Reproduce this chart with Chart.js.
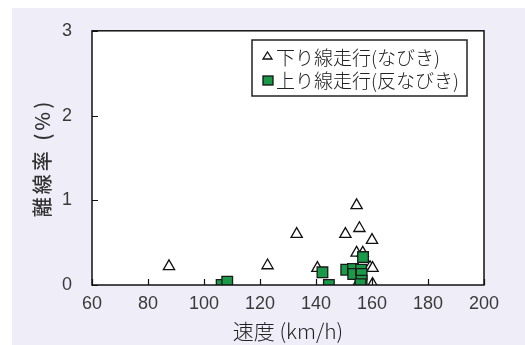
<!DOCTYPE html>
<html>
<head>
<meta charset="utf-8">
<script src="https://cdn.jsdelivr.net/npm/chart.js@4"></script>
<style>
  html, body { margin: 0; padding: 0; background: #fff; }
  #wrap { width: 525px; height: 345px; }
</style>
</head>
<body>
<div id="wrap"><canvas id="chart" width="525" height="345"></canvas></div>
<script>
// Data
const xTicks = [60, 80, 100, 120, 140, 160, 180, 200];
const yTicks = [0, 1, 2, 3];

// 下り線走行(なびき) — open triangles
const downSpeed = [87.5, 122.7, 133.1, 140.5, 150.5, 154.5, 155.5, 160.0, 154.5, 156.7, 159.3, 160.2, 160.2, 156.0, 155.0];
const downRate  = [0.22, 0.23, 0.60, 0.20, 0.60, 0.94, 0.67, 0.53, 0.38, 0.38, 0.21, 0.20, 0.01, 0.10, 0.02];

// 上り線走行(反なびき) — green squares
const upSpeed = [106.3, 108.3, 142.3, 144.6, 150.8, 153.2, 153.3, 156.1, 156.3, 156.3, 155.9, 156.8];
const upRate  = [0.00, 0.04, 0.15, 0.00, 0.18, 0.19, 0.13, 0.18, 0.13, 0.05, 0.01, 0.33];

const labels = ['下り線走行(なびき)', '上り線走行(反なびき)'];
const xTitle = '速度 (km/h)';
const yTitle = '離線率 (%)';

const FONT = "'Noto Sans CJK JP', 'Noto Sans', sans-serif";
const NUMFONT = "'Liberation Sans', 'Noto Sans CJK JP', sans-serif";
const GREEN = '#1a9a48';

const toPoints = (xs, ys) => xs.map((x, i) => ({ x: x, y: ys[i] }));

// background panel + white plot area
const backdrop = {
    id: 'backdrop',
    beforeDraw(chart) {
        const { ctx, chartArea: a } = chart;
        ctx.save();
        ctx.fillStyle = '#efeef8';
        ctx.fillRect(12, 8, chart.width - 12, chart.height - 8);
        ctx.fillStyle = '#fff';
        ctx.fillRect(a.left, a.top, a.right - a.left, a.bottom - a.top);
        ctx.restore();
    }
};

// frame, inward ticks, axis titles and the boxed legend
const frameAndLegend = {
    id: 'frameAndLegend',
    afterDatasetsDraw(chart) {
        const { ctx, chartArea: a, scales } = chart;
        ctx.save();
        ctx.strokeStyle = '#111';
        ctx.lineWidth = 1.2;
        ctx.beginPath();
        scales.x.ticks.forEach(t => {
            const px = Math.round(scales.x.getPixelForValue(t.value)) + 0.5;
            ctx.moveTo(px, a.bottom);
            ctx.lineTo(px, a.bottom - 6);
        });
        scales.y.ticks.forEach(t => {
            const py = Math.round(scales.y.getPixelForValue(t.value)) + 0.5;
            ctx.moveTo(a.left, py);
            ctx.lineTo(a.left + 6, py);
        });
        ctx.stroke();
        ctx.lineWidth = 1.5;
        ctx.strokeRect(a.left, a.top, a.right - a.left, a.bottom - a.top);

        // axis titles
        ctx.textAlign = 'center';
        ctx.textBaseline = 'middle';
        ctx.fillStyle = '#222';
        ctx.font = '300 21px ' + FONT;
        ctx.fillText(xTitle, (a.left + a.right) / 2, 331);
        ctx.save();
        ctx.translate(42, 158);
        ctx.rotate(-Math.PI / 2);
        ctx.font = '500 20px ' + FONT;
        ctx.letterSpacing = '3px';
        ctx.fillStyle = '#333';
        ctx.fillText(yTitle, 0, 0);
        ctx.restore();

        // legend
        const bx = 252, by = 40, bw = 215, bh = 56;
        ctx.fillStyle = '#fff';
        ctx.fillRect(bx, by, bw, bh);
        ctx.strokeStyle = '#222';
        ctx.lineWidth = 1.5;
        ctx.strokeRect(bx, by, bw, bh);

        ctx.font = '300 19px ' + FONT;
        ctx.textBaseline = 'middle';
        ctx.textAlign = 'left';

        // triangle marker
        ctx.lineWidth = 1.3;
        ctx.strokeStyle = '#111';
        ctx.beginPath();
        ctx.moveTo(267.5, 52);
        ctx.lineTo(272, 59);
        ctx.lineTo(263, 59);
        ctx.closePath();
        ctx.fillStyle = '#fff';
        ctx.fill();
        ctx.stroke();
        ctx.fillStyle = '#222';
        ctx.fillText(chart.data.datasets[1].label, 276, 58);

        // square marker
        ctx.fillStyle = GREEN;
        ctx.fillRect(263, 76, 10, 9);
        ctx.strokeRect(263, 76, 10, 9);
        ctx.fillStyle = '#222';
        ctx.fillText(chart.data.datasets[0].label, 276, 81);
        ctx.restore();
    }
};

new Chart(document.getElementById('chart'), {
    type: 'scatter',
    data: {
        datasets: [
            {
                label: labels[1],
                data: toPoints(upSpeed, upRate),
                pointStyle: 'rect',
                pointRadius: 7.5,
                pointHoverRadius: 7.5,
                backgroundColor: GREEN,
                borderColor: '#1a1a1a',
                borderWidth: 1.3,
                order: 1
            },
            {
                label: labels[0],
                data: toPoints(downSpeed, downRate),
                pointStyle: 'triangle',
                pointRadius: 6.5,
                pointHoverRadius: 6.5,
                backgroundColor: '#fff',
                borderColor: '#111',
                borderWidth: 1.3,
                order: 2
            }
        ]
    },
    options: {
        responsive: false,
        animation: false,
        layout: { padding: { left: 12, right: 41, top: 25, bottom: 0 } },
        plugins: {
            legend: { display: false },
            tooltip: { enabled: false }
        },
        scales: {
            x: {
                type: 'linear',
                min: 60,
                max: 200,
                afterBuildTicks: s => { s.ticks = xTicks.map(v => ({ value: v })); },
                afterFit: s => { s.height = 60; },
                grid: { display: false, drawTicks: false },
                border: { display: false },
                ticks: {
                    font: { family: NUMFONT, size: 18 },
                    color: '#3a3a3a',
                    padding: 8,
                    maxRotation: 0
                }
            },
            y: {
                min: 0,
                max: 3,
                afterBuildTicks: s => { s.ticks = yTicks.map(v => ({ value: v })); },
                afterFit: s => { s.width = 80; },
                grid: { display: false, drawTicks: false },
                border: { display: false },
                ticks: {
                    font: { family: NUMFONT, size: 18 },
                    color: '#3a3a3a',
                    padding: 20
                }
            }
        }
    },
    plugins: [backdrop, frameAndLegend]
});
</script>
</body>
</html>
